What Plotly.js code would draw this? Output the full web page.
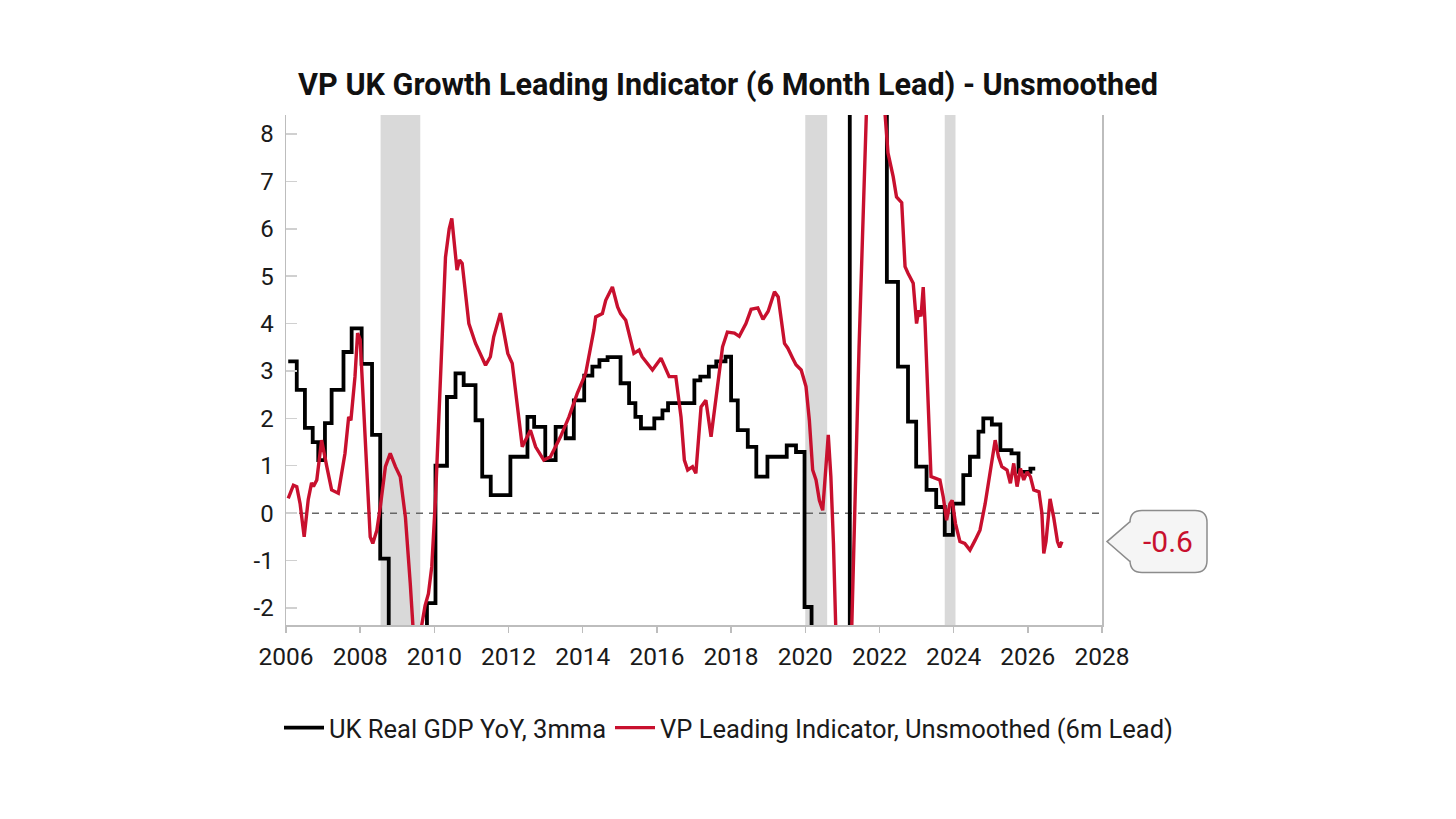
<!DOCTYPE html>
<html>
<head>
<meta charset="utf-8">
<script src="https://cdn.plot.ly/plotly-3.0.1.min.js"></script>
<style>
html,body{margin:0;padding:0;background:#fff;}
#chart{width:1456px;height:819px;}
</style>
</head>
<body>
<div id="chart"></div>
<script>
// ---- Data ----
var chartTitle = "VP UK Growth Leading Indicator (6 Month Lead) - Unsmoothed";
var gdpName = "UK Real GDP YoY, 3mma";
var vpName = "VP Leading Indicator, Unsmoothed (6m Lead)";

// UK Real GDP YoY, 3mma (step series; x = decimal year)
var gdpX = [2006.06,2006.29,2006.51,2006.72,2006.87,2007.05,2007.23,2007.55,2007.77,2008.04,2008.32,2008.54,2008.77,2009.0,2009.25,2009.5,2009.8,
  2010.03,2010.34,2010.57,2010.79,2011.11,2011.29,2011.52,2012.05,2012.51,2012.69,2012.99,2013.27,2013.54,2013.76,2014.04,2014.26,2014.45,2014.67,
  2015.02,2015.25,2015.42,2015.57,2015.93,2016.15,2016.3,2017.01,2017.17,2017.4,2017.6,2017.85,2018.0,2018.18,2018.45,2018.68,2018.98,2019.5,2019.75,
  2019.98,2020.17,2020.35,2020.6,2020.85,2021.2,2021.5,2021.85,2022.2,2022.5,2022.77,2022.99,2023.27,2023.53,2023.76,2023.98,2024.26,2024.44,2024.67,
  2024.8,2025.03,2025.26,2025.56,2025.75,2026.07,2026.2];
var gdpY = [3.2,2.6,1.8,1.5,1.12,1.9,2.6,3.4,3.9,3.15,1.65,-0.96,-3.5,-5.5,-6.5,-4.5,-1.9,
  1.0,2.45,2.95,2.7,1.96,0.77,0.38,1.19,2.03,1.82,1.12,1.82,1.58,2.38,2.9,3.09,3.23,3.29,
  2.74,2.32,2.03,1.79,2.0,2.17,2.32,2.8,2.88,3.09,3.2,3.3,2.38,1.75,1.4,0.77,1.19,1.43,1.29,
  -1.98,-8.5,-21,-8.5,-7,22,9.5,9,4.88,3.09,1.93,0.98,0.49,0.13,-0.46,0.2,0.8,1.19,1.72,
  2.0,1.87,1.33,1.26,0.87,0.94,0.94];

// VP Leading Indicator, Unsmoothed (6m Lead)
var vpX = [2006.06,2006.2,2006.29,2006.38,2006.49,2006.6,2006.69,2006.74,2006.83,2006.96,2007.1,2007.23,2007.41,2007.59,2007.69,2007.75,2007.86,2007.93,
  2008.0,2008.09,2008.2,2008.27,2008.34,2008.45,2008.54,2008.68,2008.81,2008.95,2009.08,2009.22,2009.35,2009.44,2009.52,2009.62,2009.75,2009.84,2009.93,
  2010.03,2010.12,2010.2,2010.3,2010.4,2010.47,2010.61,2010.68,2010.75,2010.93,2011.11,2011.38,2011.51,2011.6,2011.78,2011.98,2012.1,2012.37,2012.59,2012.73,
  2012.95,2013.13,2013.4,2013.63,2013.85,2014.08,2014.3,2014.35,2014.53,2014.62,2014.8,2014.94,2015.02,2015.16,2015.38,2015.52,2015.6,2015.88,2016.11,
  2016.24,2016.33,2016.51,2016.65,2016.74,2016.83,2016.96,2017.05,2017.19,2017.32,2017.46,2017.64,2017.77,2017.9,2018.09,2018.22,2018.4,2018.54,2018.72,
  2018.86,2019.0,2019.17,2019.27,2019.44,2019.53,2019.66,2019.75,2019.89,2020.02,2020.11,2020.2,2020.29,2020.38,2020.47,2020.53,2020.62,2020.69,2020.76,
  2020.82,2020.95,2021.1,2021.25,2021.45,2021.6,2021.75,2021.95,2022.14,2022.23,2022.37,2022.46,2022.6,2022.69,2022.77,2022.91,2023.0,2023.06,2023.12,
  2023.18,2023.23,2023.32,2023.39,2023.5,2023.63,2023.72,2023.81,2023.9,2023.96,2024.05,2024.17,2024.3,2024.44,2024.58,2024.71,2024.85,2024.99,2025.12,
  2025.21,2025.3,2025.44,2025.53,2025.62,2025.71,2025.8,2025.89,2025.98,2026.07,2026.16,2026.3,2026.38,2026.43,2026.49,2026.6,2026.7,2026.8,2026.86,2026.92];
var vpY = [0.31,0.59,0.56,0.2,-0.5,0.29,0.64,0.56,0.7,1.54,0.98,0.49,0.42,1.26,2.03,1.96,2.88,3.8,
  3.66,2.38,0.56,-0.5,-0.64,-0.36,0.12,0.98,1.26,0.98,0.77,-0.09,-1.48,-2.6,-3.0,-2.5,-1.95,-1.7,-1.13,
  0.3,2.0,3.8,5.4,6.0,6.22,5.13,5.34,5.27,4.0,3.58,3.12,3.3,3.72,4.22,3.37,3.16,1.4,1.75,1.4,
  1.12,1.19,1.61,2.03,2.52,2.95,3.86,4.14,4.21,4.49,4.77,4.35,4.21,4.07,3.37,3.44,3.3,3.02,3.27,
  3.05,2.88,2.88,2.03,1.12,0.91,0.98,0.84,2.24,2.38,1.61,2.8,3.51,3.82,3.8,3.73,4.0,4.3,4.33,
  4.09,4.26,4.67,4.56,3.58,3.48,3.27,3.13,3.02,2.67,1.96,0.91,0.7,0.27,0.06,0.7,1.65,0.77,-0.64,
  -2.36,-5.5,-5.0,-2.5,3.5,8.5,11,10.5,8.4,7.6,7.1,6.67,6.55,5.2,5.06,4.85,4.0,4.28,4.15,
  4.77,4.0,2.17,0.77,0.74,0.7,0.34,-0.15,0.2,0.27,-0.22,-0.6,-0.64,-0.78,-0.57,-0.36,0.2,0.91,1.54,
  1.19,0.98,0.91,0.63,1.05,0.56,0.94,0.7,0.87,0.77,0.49,0.45,0.0,-0.85,-0.6,0.3,-0.1,-0.6,-0.72,-0.6];

// Recession periods (shaded)
var recStart = [2008.55, 2020.0, 2023.76];
var recEnd   = [2009.62, 2020.59, 2024.05];

// Axis settings
var xTicks = [2006,2008,2010,2012,2014,2016,2018,2020,2022,2024,2026,2028];
var yTicks = [-2,-1,0,1,2,3,4,5,6,7,8];
var xRange = [2006, 2028];
var yRange = [-2.36, 8.4];

// ---- Chart ----
var RED = '#c8102e';
var FONT = 'Roboto, sans-serif';
var M = {l: 286, r: 354, t: 115, b: 194};
var plotW = 1456 - M.l - M.r, plotH = 819 - M.t - M.b;

var traces = [
  {x: gdpX, y: gdpY, name: gdpName, type: 'scatter', mode: 'lines', legend: 'legend',
   line: {color: '#000000', width: 3.8, shape: 'hv'}, hoverinfo: 'x+y'},
  {x: vpX, y: vpY, name: vpName, type: 'scatter', mode: 'lines', legend: 'legend2',
   line: {color: RED, width: 3.4}, hoverinfo: 'x+y'}
];

var shapes = [];
for (var i = 0; i < recStart.length; i++) {
  shapes.push({type: 'rect', xref: 'x', yref: 'paper', x0: recStart[i], x1: recEnd[i], y0: 0, y1: 1,
    fillcolor: '#d9d9d9', line: {width: 0}, layer: 'below'});
}
shapes.push({type: 'line', xref: 'paper', yref: 'y', x0: 0, x1: 1, y0: 0, y1: 0,
  line: {color: '#666666', width: 1.5, dash: '7px,6px'}, layer: 'below'});

// callout bubble for last value (paper coordinates derived from last value)
var lastV = vpY[vpY.length - 1];
var cy = (lastV - yRange[0]) / (yRange[1] - yRange[0]);
function px(p) { return p / plotW; }
function pyh(p) { return p / plotH; }
var bx0 = px(844), bx1 = px(921), tipX = px(821);
var rx = px(12), ry = pyh(12), hh = pyh(31), ph = pyh(20);
var bTop = cy + hh, bBot = cy - hh;
var calloutPath = 'M ' + (bx0 + rx) + ',' + bTop +
  ' L ' + (bx1 - rx) + ',' + bTop +
  ' Q ' + bx1 + ',' + bTop + ' ' + bx1 + ',' + (bTop - ry) +
  ' L ' + bx1 + ',' + (bBot + ry) +
  ' Q ' + bx1 + ',' + bBot + ' ' + (bx1 - rx) + ',' + bBot +
  ' L ' + (bx0 + rx) + ',' + bBot +
  ' Q ' + bx0 + ',' + bBot + ' ' + bx0 + ',' + (bBot + ry) +
  ' L ' + bx0 + ',' + (cy - ph) +
  ' L ' + tipX + ',' + cy +
  ' L ' + bx0 + ',' + (cy + ph) +
  ' L ' + bx0 + ',' + (bTop - ry) +
  ' Q ' + bx0 + ',' + bTop + ' ' + (bx0 + rx) + ',' + bTop + ' Z';
shapes.push({type: 'path', xref: 'paper', yref: 'paper', path: calloutPath,
  fillcolor: '#f5f5f5', line: {color: '#8c8c8c', width: 1.5}, layer: 'above'});

var legendFont = {family: FONT, size: 25.5, color: '#1a1a1a'};
var legendY = pyh(625 - 728);

var layout = {
  width: 1456, height: 819,
  paper_bgcolor: '#ffffff', plot_bgcolor: '#ffffff',
  margin: M,
  font: {family: FONT, color: '#1a1a1a', size: 24},
  title: {text: '<b>' + chartTitle + '</b>', x: 0.5, xref: 'container', xanchor: 'center',
    y: 0.897, yref: 'container', yanchor: 'middle',
    font: {family: FONT, size: 30.6, color: '#111111'}},
  showlegend: true,
  legend: {orientation: 'h', x: px(279 - 286), xanchor: 'left', y: legendY, yanchor: 'middle',
    font: legendFont, itemwidth: 40, bgcolor: 'rgba(0,0,0,0)', borderwidth: 0},
  legend2: {orientation: 'h', x: px(610 - 286), xanchor: 'left', y: legendY, yanchor: 'middle',
    font: legendFont, itemwidth: 40, bgcolor: 'rgba(0,0,0,0)', borderwidth: 0},
  xaxis: {range: xRange, tickvals: xTicks, ticktext: xTicks.map(String),
    showgrid: false, zeroline: false, showline: true, linecolor: '#bdbdbd', linewidth: 1.5,
    ticks: 'outside', ticklen: 6, tickcolor: '#bdbdbd', tickwidth: 1.5,
    tickfont: {family: FONT, size: 24.5, color: '#1a1a1a'}, ticklabelstandoff: 3},
  yaxis: {range: yRange, tickvals: yTicks, ticktext: yTicks.map(String),
    showgrid: false, zeroline: false, showline: true, mirror: true, linecolor: '#bdbdbd', linewidth: 1.5,
    ticks: 'inside', ticklen: 11, tickcolor: '#d0d0d0', tickwidth: 1.5,
    tickfont: {family: FONT, size: 24, color: '#1a1a1a'}, ticklabelstandoff: 6},
  shapes: shapes,
  annotations: [{xref: 'paper', yref: 'paper', x: px(881.5), y: cy, text: lastV.toFixed(1),
    showarrow: false, xanchor: 'center', yanchor: 'middle',
    font: {family: FONT, size: 30, color: RED}}]
};

Plotly.newPlot('chart', traces, layout, {displayModeBar: false, staticPlot: true});
</script>
</body>
</html>
